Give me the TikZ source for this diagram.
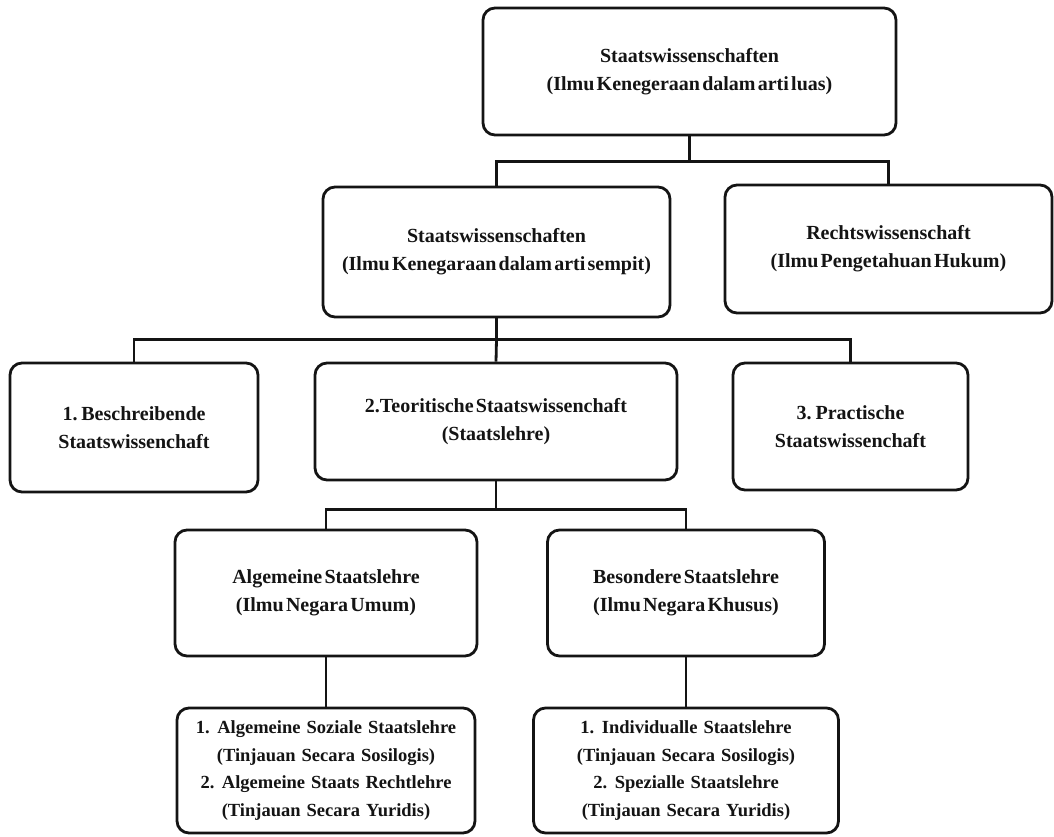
\documentclass[tikz,border=0pt]{standalone}
\usepackage{fontspec}
\setmainfont[WordSpace=0.45]{Liberation Serif}
\newfontfamily\lowserif[WordSpace=1.3]{Liberation Serif}
\usepackage{tikz}
\definecolor{mydark}{RGB}{20,20,20}
\tikzset{
  block/.style={rectangle, draw=mydark, fill=white, text=mydark,
    align=center, inner sep=0pt, rounded corners=12pt, line width=2.8pt,
    font=\bfseries\fontsize{20}{28}\selectfont},
  lowblock/.style={block, font=\lowserif\bfseries\fontsize{18.5}{27.5}\selectfont},
  line/.style={line width=2.8pt, color=mydark}
}
\begin{document}
\begin{tikzpicture}[x=1pt, y=-1pt]
  \useasboundingbox (0,0) rectangle (1054,836);
  \node[block, minimum width=413pt, minimum height=127pt] (luas) at (689.5,71.5) {Staatswissenschaften\\(Ilmu Kenegeraan dalam arti luas)};
  \node[block, minimum width=347pt, minimum height=130pt] (sempit) at (496.5,252) {Staatswissenschaften\\(Ilmu Kenegaraan dalam arti sempit)};
  \node[block, minimum width=327pt, minimum height=128pt] (recht) at (888.5,249) {Rechtswissenschaft\\(Ilmu Pengetahuan Hukum)};
  \node[block, minimum width=248pt, minimum height=129pt] (beschr) at (134,427.5) {1. Beschreibende\\Staatswissenchaft};
  \node[block, minimum width=362pt, minimum height=117pt] (teori) at (496,421.5) {2.Teoritische Staatswissenchaft\\(Staatslehre)};
  \node[block, minimum width=235pt, minimum height=127pt] (prakt) at (850.5,426.5) {3. Practische\\Staatswissenchaft};
  \node[block, minimum width=302pt, minimum height=126pt] (umum) at (326,593) {Algemeine Staatslehre\\(Ilmu Negara Umum)};
  \node[block, minimum width=277pt, minimum height=126pt] (khusus) at (686,593) {Besondere Staatslehre\\(Ilmu Negara Khusus)};
  \node[lowblock, minimum width=298pt, minimum height=125pt] (umumsub) at (326,770.5) {1. Algemeine Soziale Staatslehre\\(Tinjauan Secara Sosilogis)\\2. Algemeine Staats Rechtlehre\\(Tinjauan Secara Yuridis)};
  \node[lowblock, minimum width=305pt, minimum height=125pt] (khusussub) at (686,770.5) {1. Individualle Staatslehre\\(Tinjauan Secara Sosilogis)\\2. Spezialle Staatslehre\\(Tinjauan Secara Yuridis)};
  \draw[line] (luas.south) -- ++(0,25) coordinate (j1);
  \draw[line] (sempit.north) |- (j1) -| (recht.north);
  \draw[line] (sempit.south) -- ++(0,21) coordinate (j2);
  \draw[line] (beschr.north) |- (j2) -| (prakt.north);
  \draw[line] (j2) -- (teori.north);
  \draw[line] (teori.south) -- ++(0,28) coordinate (j3);
  \draw[line] (umum.north) |- (j3) -| (khusus.north);
  \draw[line] (umum) -- (umumsub);
  \draw[line] (khusus) -- (khusussub);
\end{tikzpicture}
\end{document}
